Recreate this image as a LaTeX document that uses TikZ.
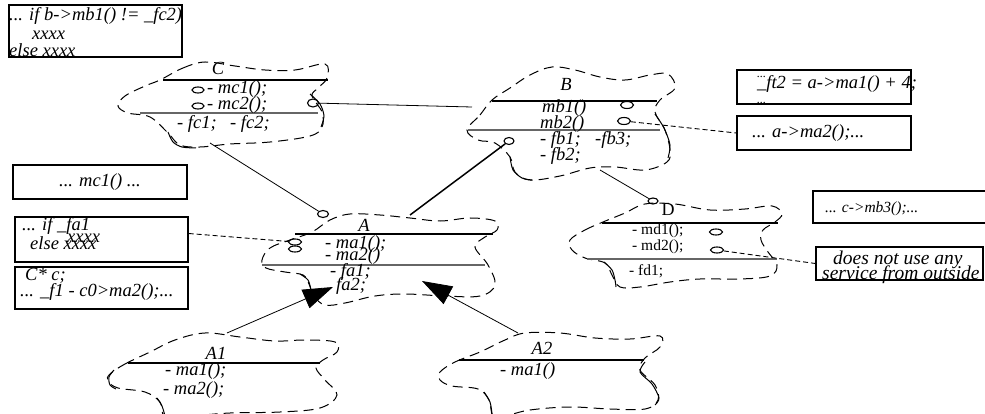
\documentclass[tikz,border=0pt]{standalone}
\usepackage{fontspec}
\setmainfont{Liberation Serif}
\usetikzlibrary{arrows.meta, shapes.geometric}
\newcommand{\itfont}{\fontsize{18.5}{18}\selectfont\itshape}
\newcommand{\dotfont}{\fontsize{12}{12}\selectfont\itshape}
\newcommand{\callfont}{\fontsize{15.5}{16}\selectfont\itshape}
\newcommand{\notefont}{\fontsize{19.5}{20}\selectfont\itshape}
\newcommand{\dnamefont}{\fontsize{18}{18}\selectfont}
\newcommand{\dmemberfont}{\fontsize{15.5}{15}\selectfont}

\begin{document}
\begin{tikzpicture}[
    x=1pt, y=-1pt,
    txt/.style={inner sep=0pt, text height=12pt, text depth=4pt, font=\itfont},
    member/.style={txt, anchor=west},
    classname/.style={txt},
    codebox/.style={draw, rectangle, line width=1.4pt, inner sep=0pt},
    port/.style={draw, ellipse, minimum width=12pt, minimum height=6pt, inner sep=0pt, line width=1.1pt},
    cloud/.style={line width=1pt, dash pattern=on 10pt off 6pt},
    wiggle/.style={line width=1pt},
    headline/.style={line width=1.6pt},
    splitline/.style={line width=1.2pt, black!60},
    link/.style={line width=0.8pt},
    uselink/.style={line width=0.9pt, dash pattern=on 5pt off 3pt},
    inherit/.style={line width=0.8pt, -{Triangle[length=30pt, width=20pt]}}
]
\useasboundingbox (0,0) rectangle (985,414);

% code boxes
\node[codebox, minimum width=173pt, minimum height=52pt] (condbox) at (95.5,31) {};
\node[member] (condline1) at (9,17) {... if b->mb1() != \_fc2)};
\node[member] (condline2) at (32,36) {xxxx};
\node[member] (condline3) at (9,53) {else xxxx};

\node[codebox, minimum width=174pt, minimum height=34pt] (ftbox) at (824,87) {};
\node[member, font=\dotfont] (ftdots1) at (757,74) {...};
\node[member] (ftline) at (757,85) {\_ft2 = a->ma1() + 4;};
\node[member, font=\dotfont] (ftdots2) at (757,100) {...};

\node[codebox, minimum width=174pt, minimum height=34pt] (ma2box) at (824,133) {};
\node[member] (ma2line) at (752,134) {... a->ma2();...};

\node[codebox, minimum width=174pt, minimum height=34pt, font=\itfont] (mc1box) at (100,182) {... mc1() ...};

\node[codebox, minimum width=173pt, minimum height=45pt] (fabox) at (101.5,239.5) {};
\node[member] (faline1) at (22,226) {... if \_fa1};
\node[member] (faline2) at (67,239) {xxxx};
\node[member] (faline3) at (30,245) {else xxxx};

\node[codebox, minimum width=173pt, minimum height=42pt] (cptrbox) at (101.5,288) {};
\node[member] (cptrline1) at (25,276) {C* c;};
\node[member] (cptrline2) at (20,292) {... \_f1 - c0>ma2();...};

\node[codebox, minimum width=187pt, minimum height=32pt] (mb3box) at (906.5,207) {};
\node[member, font=\callfont] (mb3line) at (825,209) {... c->mb3();...};

\node[codebox, minimum width=167pt, minimum height=33pt] (nousebox) at (899.5,263.5) {};
\node[member, font=\notefont] (nouseline1) at (833,260) {does not use any};
\node[member, font=\notefont] (nouseline2) at (822,275) {service from outside};

% class C
\draw[cloud] plot[smooth cycle, tension=0.6] coordinates {(160,80) (183,68) (205,62) (235,66) (265,70) (295,70) (325,64) (327,78) (318,88) (312,96) (322,112) (322,127) (310,136) (270,142) (230,144) (200,147) (180,145) (168,133) (150,117) (128,113) (118,106) (125,96) (145,86)};
\draw[wiggle] plot[smooth] coordinates {(310,94) (320,104) (324,116) (321,127)};
\draw[wiggle] plot[smooth] coordinates {(168,132) (173,142) (182,147) (196,148)};
\draw[headline] (163,80) -- (328,80);
\draw[splitline] (140,113) -- (318,113);
\node[classname] (cName) at (218,71) {C};
\node[member] (cM1) at (207,90) {- mc1();};
\node[member] (cM2) at (207,106) {- mc2();};
\node[member] (cF1) at (177,125) {- fc1;};
\node[member] (cF2) at (230,125) {- fc2;};
\node[port] (mc1port) at (198,90) {};
\node[port] (mc2port) at (198,106) {};
\node[port, minimum width=11pt, minimum height=8pt] (cRight) at (313,103) {};
\coordinate (cBottom) at (210,143);

% class B
\draw[cloud] plot[smooth cycle, tension=0.6] coordinates {(467,130) (480,115) (492,100) (510,88) (530,75) (552,67) (575,70) (600,77) (625,80) (650,75) (668,74) (675,88) (660,100) (655,112) (665,130) (670,150) (667,162) (645,170) (615,167) (590,168) (560,176) (530,180) (515,172) (510,157) (495,143) (478,140)};
\draw[wiggle] plot[smooth] coordinates {(655,114) (664,128) (670,145) (668,158)};
\draw[wiggle] plot[smooth] coordinates {(510,157) (513,170) (522,178) (532,180)};
\draw[headline] (492,101) -- (657,101);
\draw[splitline] (468,130) -- (660,130);
\node[classname] (bName) at (566,87) {B};
\node[member] (bM1) at (542,109) {mb1()};
\node[member] (bM2) at (540,125) {mb2()};
\node[member] (bF1) at (540,141) {- fb1;};
\node[member] (bF3) at (595,141) {-fb3;};
\node[member] (bF2) at (540,157) {- fb2;};
\node[port, minimum width=13pt, minimum height=7pt] (mb1port) at (627,105) {};
\node[port, minimum width=13pt, minimum height=7pt] (mb2port) at (624,121) {};
\node[port, minimum width=10pt, minimum height=7pt] (bLow) at (509,141) {};
\coordinate (bLeft) at (472,107);
\coordinate (bBottom) at (600,170);

% class A
\draw[cloud] plot[smooth cycle, tension=0.6] coordinates {(262,260) (270,248) (290,240) (312,232) (330,220) (350,214) (380,215) (410,218) (440,221) (470,218) (495,221) (497,230) (485,237) (475,247) (488,265) (495,285) (480,296) (445,296) (405,294) (375,296) (345,303) (325,305) (314,296) (309,284) (303,275) (285,272) (266,268)};
\draw[wiggle] plot[smooth] coordinates {(300,274) (308,280) (311,290) (312,295)};
\draw[headline] (295,234) -- (493,234);
\draw[splitline] (262,265) -- (485,265);
\node[classname] (aName) at (364,227) {A};
\node[member] (aM1) at (325,244) {- ma1();};
\node[member] (aM2) at (325,256) {- ma2()};
\node[member] (aF1) at (330,272) {- fa1;};
\node[member] (aF2) at (336,286) {fa2;};
\node[port, minimum width=13pt] (ma1port) at (295,242) {};
\node[port, minimum width=13pt] (ma2port) at (295,249) {};
\node[port, minimum width=11pt, minimum height=7pt] (aTop) at (323,214) {};
\coordinate (aEdge) at (410,215);
\coordinate (aTipLeft) at (333,287);
\coordinate (aTipRight) at (422,281);

% class D
\draw[cloud] plot[smooth cycle, tension=0.6] coordinates {(570,240) (585,230) (603,222) (625,213) (645,204) (675,204) (710,210) (745,209) (772,206) (782,214) (775,222) (763,230) (761,240) (768,252) (777,265) (770,276) (740,279) (700,279) (670,282) (640,287) (620,287) (612,275) (605,263) (585,258) (572,250)};
\draw[wiggle] plot[smooth] coordinates {(604,262) (612,270) (615,280) (616,287)};
\draw[headline] (602,223) -- (778,223);
\draw[splitline] (587,259) -- (777,259);
\node[classname, font=\dnamefont] (dName) at (668,211) {D};
\node[member, font=\dmemberfont] (dM1) at (632,230) {- md1();};
\node[member, font=\dmemberfont] (dM2) at (632,246) {- md2();};
\node[member, font=\dmemberfont] (dF1) at (629,271) {- fd1;};
\node[port, minimum width=13pt] (md1port) at (716,232) {};
\node[port, minimum width=13pt] (md2port) at (717,250) {};
\node[port, minimum width=10pt] (dTop) at (653,201) {};

% class A1
\draw[cloud] plot[smooth cycle, tension=0.6] coordinates {(110,374) (125,364) (150,352) (175,340) (205,333) (240,337) (275,341) (305,340) (335,342) (337,352) (323,360) (316,368) (325,380) (337,395) (320,408) (280,412) (230,413) (190,416) (165,416) (160,402) (145,392) (118,388) (108,381)};
\draw[wiggle] plot[smooth] coordinates {(157,398) (162,406) (165,416)};
\draw[wiggle] plot[smooth] coordinates {(114,370) (109,377) (110,385) (116,389)};
\draw[headline] (128,363) -- (320,363);
\node[classname] (a1Name) at (216,355) {A1};
\node[member] (a1M1) at (165,371) {- ma1();};
\node[member] (a1M2) at (163,390) {- ma2();};
\coordinate (a1Top) at (227,333);

% class A2
\draw[cloud] plot[smooth cycle, tension=0.6] coordinates {(440,372) (455,362) (480,352) (505,340) (525,333) (560,333) (595,338) (630,339) (660,336) (660,347) (645,358) (640,370) (655,385) (658,400) (645,409) (610,409) (570,407) (530,410) (505,416) (493,416) (489,400) (478,389) (452,386) (440,380)};
\draw[wiggle] plot[smooth] coordinates {(645,362) (640,372) (652,384) (659,398) (655,405)};
\draw[wiggle] plot[smooth] coordinates {(484,392) (490,402) (492,414)};
\draw[headline] (459,360) -- (644,360);
\node[classname] (a2Name) at (542,350) {A2};
\node[member] (a2M1) at (500,371) {- ma1()};
\coordinate (a2Top) at (518,333);

% connections
\draw[link] (cRight) -- (bLeft);
\draw[link] (cBottom) -- (aTop);
\draw[link, line width=1.5pt] (bLow) -- (aEdge);
\draw[link] (bBottom) -- (dTop);
\draw[uselink] (mb2port) -- (ma2box.west);
\draw[uselink] ([yshift=6pt]fabox.east) -- (ma1port);
\draw[uselink] (md2port) -- (nousebox.west);
\draw[inherit] (a1Top) -- (aTipLeft);
\draw[inherit] (a2Top) -- (aTipRight);

\end{tikzpicture}
\end{document}
